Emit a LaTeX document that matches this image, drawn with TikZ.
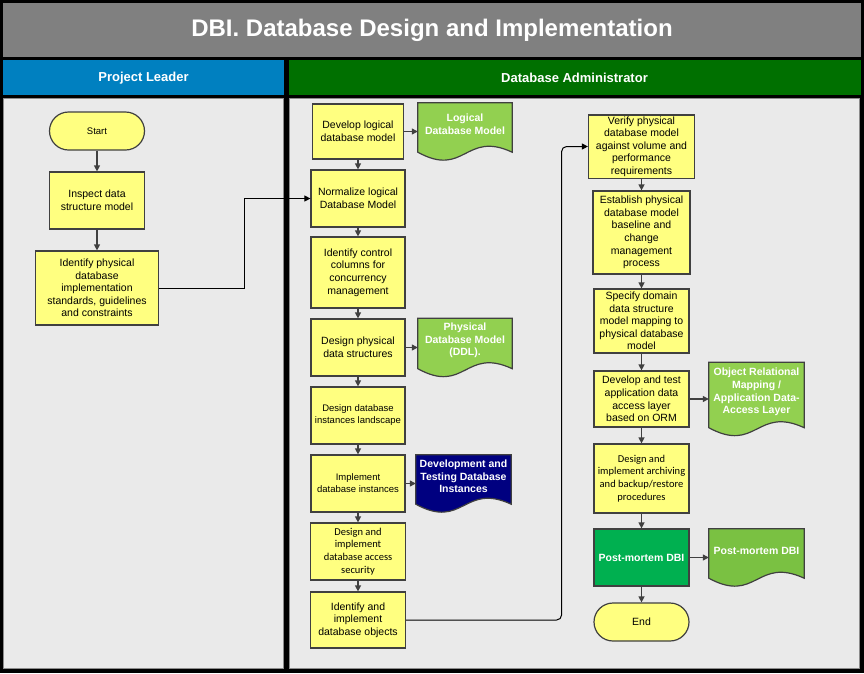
\documentclass[tikz,border=0pt]{standalone}
\usepackage{fontspec}
\setmainfont{Liberation Sans}
\newfontfamily\calfont{Carlito}
\usetikzlibrary{calc, arrows.meta}

\definecolor{titlegray}{RGB}{128,128,128}
\definecolor{leaderblue}{RGB}{0,128,192}
\definecolor{admingreen}{RGB}{0,112,0}
\definecolor{lanegray}{RGB}{234,234,234}
\definecolor{boxyellow}{RGB}{255,255,128}
\definecolor{boxline}{RGB}{64,64,64}
\definecolor{docgreen}{RGB}{146,208,80}
\definecolor{pmgreen}{RGB}{0,176,80}
\definecolor{pmdocgreen}{RGB}{122,193,66}
\definecolor{docnavy}{RGB}{0,0,128}

% document shape: name, centre, width, height, fill, text
\newcommand{\docnode}[6]{%
  \node[docbox, minimum width=#3, minimum height=#4] (#1) at #2 {};
  \filldraw[fill=#5, draw=boxline, line width=1.2pt] (#1.north west) -- (#1.north east)
    -- ($(#1.south east)+(0,-8)$) .. controls ($(#1.south)+(0,-30)$) and ($(#1.south)+(0,18)$)
    .. ($(#1.south west)+(0,-8)$) -- cycle;
  \node[doctext] (#1-t) at ($(#1.center)+(0,-7)$) {#6};
}

\begin{document}
\begin{tikzpicture}[x=1pt, y=-1pt,
  proc/.style 2 args={draw=boxline, fill=boxyellow, line width=1.2pt, align=center, inner sep=1.5pt,
    minimum width=#1, minimum height=#2, font=\fontsize{10.5}{12.6}\selectfont},
  term/.style={proc={95pt}{38pt}, rounded corners=19pt},
  docbox/.style={inner sep=0pt},
  doctext/.style={align=center, text=white, font=\bfseries\fontsize{10.5}{12.6}\selectfont},
  headtext/.style={text=white, font=\bfseries\fontsize{13}{15}\selectfont},
  small/.style={font=\fontsize{9.5}{12}\selectfont},
  cal/.style={font=\calfont\fontsize{10.5}{12.8}\selectfont},
  arr/.style={draw=boxline, line width=1.2pt, -{Triangle[length=6pt,width=6pt]}},
  link/.style={draw=black, line width=1pt, -{Triangle[length=6pt,width=6pt]}}]
\useasboundingbox (0,0) rectangle (864,673);

\fill[black] (0,0) rectangle (864,673);
\fill[titlegray] (3,3) rectangle (861,57);
\fill[leaderblue] (3,60) rectangle (284,95);
\fill[admingreen] (289,60) rectangle (861,95);
\filldraw[fill=lanegray, draw=black!45] (3.5,98.5) rectangle (283.5,668);
\filldraw[fill=lanegray, draw=black!45] (289.5,98.5) rectangle (859,668);

\node[text=white, font=\bfseries\fontsize{24}{28}\selectfont] (title) at (432,30) {DBI. Database Design and Implementation};
\node[headtext] (leader) at (143.5,78) {Project Leader};
\node[headtext] (admin) at (574.5,78) {Database Administrator};

% project leader
\node[term, small] (start) at (97,131) {Start};
\node[proc={95pt}{57pt}] (insp) at (97,200.5) {Inspect data\\structure model};
\node[proc={123pt}{74pt}] (ident) at (97,288) {Identify physical\\database\\implementation\\standards, guidelines\\and constraints};

% database administrator, first column
\node[proc={91pt}{55pt}] (dlm) at (358,131.5) {Develop logical\\database model};
\node[proc={94pt}{57pt}] (norm) at (358,198.5) {Normalize logical\\Database Model};
\node[proc={94pt}{71pt}] (ctrl) at (358,272.5) {Identify control\\columns for\\concurrency\\management};
\node[proc={94pt}{57pt}] (dps) at (358,347.5) {Design physical\\data structures};
\node[proc={94pt}{57pt}, small] (land) at (358,415.5) {Design database\\instances landscape};
\node[proc={94pt}{57pt}, small] (impl) at (358,483.5) {Implement\\database instances};
\node[proc={95pt}{57pt}, cal] (sec) at (358,551.5) {Design and\\implement\\database access\\security};
\node[proc={95pt}{56pt}] (obj) at (358,620) {Identify and\\implement\\database objects};

\docnode{ldm}{(465,131.5)}{94pt}{57pt}{docgreen}{Logical\\Database Model}
\docnode{pdm}{(465,347.5)}{94pt}{58pt}{docgreen}{Physical\\Database Model\\(DDL).}
\docnode{dti}{(463.5,483.5)}{95pt}{57pt}{docnavy}{Development and\\Testing Database\\Instances}

% database administrator, second column
\node[proc={106pt}{63pt}] (ver) at (641.5,146.5) {Verify physical\\database model\\against volume and\\performance\\requirements};
\node[proc={97pt}{83pt}] (est) at (641.5,232.5) {Establish physical\\database model\\baseline and\\change\\management\\process};
\node[proc={95pt}{64pt}] (spec) at (641.5,321) {Specify domain\\data structure\\model mapping to\\physical database\\model};
\node[proc={95pt}{56pt}] (orm) at (641.5,399) {Develop and test\\application data\\access layer\\based on ORM};
\node[proc={95pt}{69pt}, cal] (arch) at (641.5,478.5) {Design and\\implement archiving\\and backup/restore\\procedures};
\node[proc={95pt}{57pt}, fill=pmgreen, text=white, font=\bfseries\fontsize{10.5}{12.6}\selectfont] (pm) at (641.5,557.5) {Post-mortem DBI};
\node[term] (end) at (641.5,622) {End};

\docnode{ormdoc}{(756.5,399)}{95pt}{73pt}{docgreen}{Object Relational\\Mapping /\\Application Data-\\Access Layer}
\docnode{pmdoc}{(756.5,557.5)}{95pt}{57pt}{pmdocgreen}{Post-mortem DBI}

\draw[arr] (start) -- (insp);
\draw[arr] (insp) -- (ident);
\draw[link] (ident.east) -- ++(85.5,0) |- (norm.west);

\draw[arr] (dlm) -- (norm);
\draw[arr] (norm) -- (ctrl);
\draw[arr] (ctrl) -- (dps);
\draw[arr] (dps) -- (land);
\draw[arr] (land) -- (impl);
\draw[arr] (impl) -- (sec);
\draw[arr] (sec) -- (obj);
\draw[arr] (dlm) -- (ldm);
\draw[arr] (dps) -- (pdm);
\draw[arr] (impl) -- (dti);
\draw[link, rounded corners=5pt] (obj.east) -- ++(155.5,0) |- (ver.west);

\draw[arr] (ver) -- (est);
\draw[arr] (est) -- (spec);
\draw[arr] (spec) -- (orm);
\draw[arr] (orm) -- (arch);
\draw[arr] (arch) -- (pm);
\draw[arr] (pm) -- (end);
\draw[arr] (orm) -- (ormdoc);
\draw[arr] (pm) -- (pmdoc);
\end{tikzpicture}
\end{document}
